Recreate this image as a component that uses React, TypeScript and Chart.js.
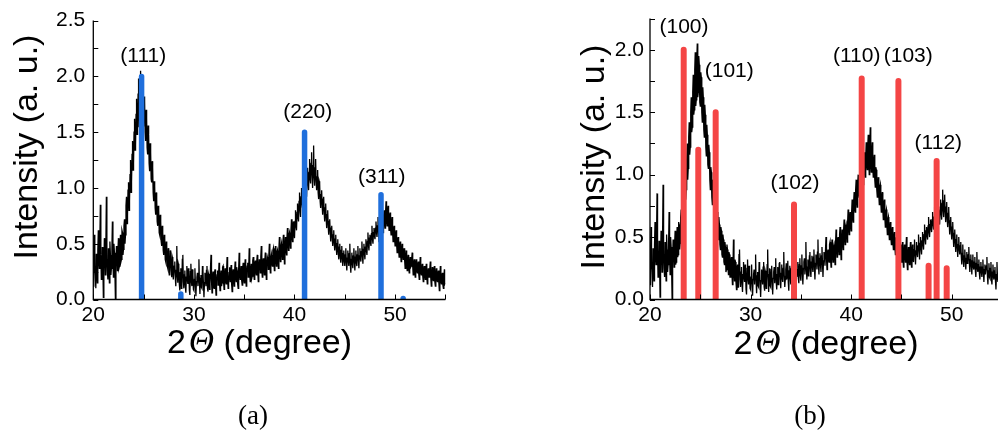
import { useEffect, useRef } from "react";
import { Chart, registerables } from "chart.js";

Chart.register(...registerables);

// XRD scan, 2θ = 20.00° … 55.00° in 0.05° steps (one row per degree)
const SCAN_START = 20;
const SCAN_STEP = 0.05;
const intensity: number[] = [
  0.12, 0.36, 0.58, 0.30, 0.22, 0.10, 0.41, 0.26, 0.15, 0.44, 0.62, 0.35, 0.28, 0.50, 0.85, 0.40, 0.18, 0.24, 0.47, 0.32, // 20
  0.02, 0.30, 0.55, 0.38, 0.22, 0.48, 0.92, 0.36, 0.25, 0.18, 0.46, 0.30, 0.15, 0.52, 0.40, 0.22, 0.28, 0.45, 0.70, 0.34, // 21
  0.20, 0.50, 0.42, 0.24, 0.00, 0.32, 0.48, 0.38, 0.26, 0.44, 0.55, 0.28, 0.30, 0.47, 0.58, 0.34, 0.36, 0.62, 0.60, 0.40, // 22
  0.45, 0.66, 0.72, 0.50, 0.58, 0.84, 0.92, 0.68, 0.75, 0.98, 1.05, 0.80, 0.88, 1.12, 1.25, 0.96, 1.05, 1.30, 1.42, 1.16, // 23
  1.22, 1.50, 1.62, 1.34, 1.38, 1.66, 1.80, 1.48, 1.52, 1.84, 1.98, 1.55, 1.60, 1.90, 2.05, 1.62, 1.66, 1.95, 1.88, 1.58, // 24
  1.55, 1.82, 1.78, 1.50, 1.42, 1.70, 1.62, 1.36, 1.30, 1.56, 1.48, 1.22, 1.15, 1.40, 1.32, 1.08, 1.05, 1.24, 1.18, 0.96, // 25
  0.88, 1.06, 1.02, 0.82, 0.76, 0.96, 0.90, 0.70, 0.66, 0.84, 0.80, 0.60, 0.58, 0.76, 0.70, 0.52, 0.48, 0.66, 0.60, 0.44, // 26
  0.40, 0.58, 0.55, 0.36, 0.34, 0.52, 0.48, 0.30, 0.28, 0.46, 0.42, 0.22, 0.24, 0.44, 0.40, 0.26, 0.20, 0.38, 0.36, 0.18, // 27
  0.18, 0.30, 0.34, 0.20, 0.12, 0.26, 0.48, 0.22, 0.15, 0.32, 0.30, 0.14, 0.08, 0.24, 0.28, 0.10, 0.14, 0.36, 0.40, 0.16, // 28
  0.10, 0.22, 0.26, 0.12, 0.06, 0.20, 0.30, 0.18, 0.14, 0.28, 0.24, 0.08, 0.04, 0.25, 0.32, 0.16, 0.12, 0.27, 0.22, 0.09, // 29
  0.08, 0.18, 0.28, 0.14, 0.03, 0.16, 0.20, 0.24, 0.12, 0.22, 0.36, 0.15, 0.05, 0.19, 0.22, 0.11, 0.10, 0.30, 0.26, 0.13, // 30
  0.02, 0.15, 0.24, 0.18, 0.12, 0.26, 0.30, 0.10, 0.07, 0.23, 0.21, 0.09, 0.14, 0.28, 0.40, 0.17, 0.06, 0.20, 0.25, 0.11, // 31
  0.10, 0.24, 0.27, 0.13, 0.04, 0.17, 0.22, 0.26, 0.13, 0.21, 0.33, 0.14, 0.08, 0.20, 0.26, 0.12, 0.15, 0.29, 0.30, 0.16, // 32
  0.09, 0.21, 0.28, 0.17, 0.14, 0.25, 0.38, 0.19, 0.10, 0.16, 0.24, 0.29, 0.16, 0.22, 0.31, 0.14, 0.07, 0.23, 0.27, 0.18, // 33
  0.12, 0.25, 0.34, 0.20, 0.16, 0.29, 0.26, 0.14, 0.10, 0.27, 0.42, 0.22, 0.18, 0.24, 0.30, 0.17, 0.13, 0.28, 0.33, 0.19, // 34
  0.15, 0.27, 0.36, 0.21, 0.12, 0.25, 0.30, 0.33, 0.20, 0.28, 0.46, 0.24, 0.16, 0.26, 0.32, 0.19, 0.21, 0.35, 0.38, 0.23, // 35
  0.18, 0.30, 0.35, 0.26, 0.22, 0.34, 0.40, 0.25, 0.16, 0.29, 0.36, 0.31, 0.24, 0.38, 0.48, 0.27, 0.20, 0.33, 0.37, 0.28, // 36
  0.22, 0.35, 0.42, 0.29, 0.18, 0.31, 0.38, 0.36, 0.27, 0.39, 0.50, 0.33, 0.24, 0.37, 0.40, 0.32, 0.30, 0.44, 0.46, 0.34, // 37
  0.26, 0.40, 0.48, 0.36, 0.30, 0.42, 0.44, 0.38, 0.28, 0.45, 0.56, 0.41, 0.34, 0.47, 0.50, 0.43, 0.36, 0.52, 0.58, 0.46, // 38
  0.32, 0.47, 0.56, 0.45, 0.40, 0.55, 0.64, 0.50, 0.44, 0.58, 0.60, 0.53, 0.46, 0.62, 0.72, 0.57, 0.52, 0.66, 0.70, 0.60, // 39
  0.55, 0.70, 0.80, 0.66, 0.62, 0.78, 0.86, 0.74, 0.70, 0.88, 0.96, 0.80, 0.74, 0.92, 1.00, 0.86, 0.82, 0.98, 1.08, 0.92, // 40
  0.86, 1.02, 1.10, 0.96, 0.92, 1.08, 1.18, 1.04, 0.98, 1.14, 1.26, 1.08, 1.04, 1.22, 1.32, 1.12, 1.00, 1.20, 1.38, 1.10, // 41
  1.02, 1.18, 1.26, 1.06, 0.98, 1.10, 1.16, 0.96, 0.90, 1.06, 1.04, 0.88, 0.82, 0.94, 0.98, 0.84, 0.76, 0.90, 0.92, 0.78, // 42
  0.70, 0.82, 0.86, 0.72, 0.64, 0.76, 0.80, 0.66, 0.58, 0.70, 0.72, 0.60, 0.52, 0.64, 0.66, 0.55, 0.48, 0.58, 0.62, 0.50, // 43
  0.44, 0.54, 0.58, 0.46, 0.40, 0.50, 0.54, 0.42, 0.36, 0.47, 0.50, 0.38, 0.33, 0.44, 0.48, 0.36, 0.30, 0.41, 0.44, 0.34, // 44
  0.30, 0.40, 0.46, 0.33, 0.26, 0.37, 0.44, 0.35, 0.30, 0.41, 0.50, 0.31, 0.24, 0.36, 0.42, 0.32, 0.28, 0.39, 0.46, 0.34, // 45
  0.26, 0.38, 0.44, 0.33, 0.30, 0.40, 0.48, 0.36, 0.28, 0.39, 0.46, 0.37, 0.34, 0.43, 0.52, 0.40, 0.32, 0.45, 0.50, 0.41, // 46
  0.36, 0.47, 0.54, 0.44, 0.40, 0.52, 0.60, 0.49, 0.44, 0.55, 0.58, 0.51, 0.48, 0.59, 0.66, 0.54, 0.50, 0.60, 0.64, 0.57, // 47
  0.54, 0.64, 0.70, 0.60, 0.56, 0.66, 0.74, 0.61, 0.52, 0.63, 0.68, 0.60, 0.56, 0.67, 0.72, 0.65, 0.60, 0.74, 0.80, 0.69, // 48
  0.64, 0.77, 0.88, 0.72, 0.66, 0.79, 0.84, 0.70, 0.62, 0.74, 0.78, 0.64, 0.58, 0.69, 0.74, 0.61, 0.52, 0.63, 0.66, 0.55, // 49
  0.48, 0.58, 0.62, 0.50, 0.42, 0.53, 0.56, 0.45, 0.38, 0.48, 0.52, 0.41, 0.34, 0.44, 0.50, 0.40, 0.36, 0.43, 0.46, 0.35, // 50
  0.28, 0.37, 0.44, 0.32, 0.26, 0.35, 0.40, 0.31, 0.24, 0.33, 0.38, 0.29, 0.30, 0.36, 0.42, 0.30, 0.22, 0.32, 0.36, 0.27, // 51
  0.20, 0.31, 0.36, 0.26, 0.24, 0.30, 0.34, 0.23, 0.18, 0.29, 0.38, 0.25, 0.22, 0.28, 0.32, 0.21, 0.16, 0.26, 0.30, 0.22, // 52
  0.18, 0.26, 0.32, 0.21, 0.14, 0.24, 0.28, 0.20, 0.20, 0.27, 0.34, 0.19, 0.12, 0.23, 0.29, 0.18, 0.17, 0.25, 0.30, 0.16, // 53
  0.12, 0.22, 0.28, 0.18, 0.16, 0.23, 0.26, 0.15, 0.08, 0.20, 0.30, 0.17, 0.14, 0.21, 0.24, 0.13, 0.10, 0.19, 0.27, 0.14, // 54
  0.15, // 55
];

// Cubic (zinc blende) reference lines
const cubicAngles = [24.8, 28.7, 41.0, 48.6, 50.8];
const cubicHeights = [2.0, 0.05, 1.5, 0.94, 0.01];
const cubicPlanes = ["(111)", "(220)", "(311)"];
const cubicPlaneAngles = [24.97, 41.32, 48.67];
const cubicPlaneHeights = [2.18, 1.675, 1.1];

// Hexagonal (wurtzite) reference lines
const hexAngles = [23.35, 24.8, 26.53, 34.32, 41.05, 44.7, 47.7, 48.5, 49.5];
const hexHeights = [2.0, 1.2, 1.5, 0.76, 1.77, 1.75, 0.27, 1.11, 0.25];
const hexPlanes = ["(100)", "(101)", "(102)", "(110)", "(103)", "(112)"];
const hexPlaneAngles = [23.38, 27.88, 34.42, 40.55, 45.68, 48.67];
const hexPlaneHeights = [2.185, 1.827, 0.93, 1.947, 1.947, 1.252];

const xTickLabels = [20, 30, 40, 50];

const SANS = '"Liberation Sans", Arial, sans-serif';
const SERIF = '"Liberation Serif", "Times New Roman", serif';

type PanelConfig = {
  canvasLeft: number;
  canvasWidth: number;
  yAxisWidth: number;
  padRight: number;
  padTop: number;
  yMax: number;
  yLabelPad: number;
  stickColor: string;
  stickWidth: number;
  angles: number[];
  heights: number[];
  planes: string[];
  planeAngles: number[];
  planeHeights: number[];
  yTitleX: number;
  yTitleY: number;
  xTitleX: number;
  xTitleBaseline: number;
};

const CANVAS_HEIGHT = 434;
const PLOT_BOTTOM = 299.5;

function stickPoints(angles: number[], heights: number[]) {
  const pts: { x: number; y: number | null }[] = [];
  angles.forEach((a, i) => {
    pts.push({ x: a, y: 0 }, { x: a, y: heights[i] }, { x: a, y: null });
  });
  return pts;
}

function framePlugin(cfg: PanelConfig) {
  return {
    id: "xrdFrame",
    afterDraw(chart: any) {
      const { ctx, chartArea: a, scales } = chart;
      const xs = scales.x;
      const ys = scales.y;
      ctx.save();

      // axis lines
      ctx.strokeStyle = "#000";
      ctx.lineWidth = 1.3;
      ctx.beginPath();
      ctx.moveTo(a.left, a.top);
      ctx.lineTo(a.left, a.bottom);
      ctx.lineTo(a.right, a.bottom);
      ctx.stroke();

      // inward ticks
      ctx.lineWidth = 1;
      ctx.beginPath();
      xs.ticks.forEach((t: any) => {
        const px = Math.round(xs.getPixelForValue(t.value)) + 0.5;
        ctx.moveTo(px, a.bottom);
        ctx.lineTo(px, a.bottom - 5);
      });
      ys.ticks.forEach((t: any) => {
        const py = Math.round(ys.getPixelForValue(t.value)) + 0.5;
        ctx.moveTo(a.left, py);
        ctx.lineTo(a.left + 5, py);
      });
      ctx.stroke();

      // Miller indices
      ctx.fillStyle = "#000";
      ctx.font = `21px ${SANS}`;
      ctx.textAlign = "center";
      ctx.textBaseline = "middle";
      cfg.planes.forEach((p, i) => {
        ctx.fillText(
          p,
          xs.getPixelForValue(cfg.planeAngles[i]),
          ys.getPixelForValue(cfg.planeHeights[i])
        );
      });

      // y title
      ctx.save();
      ctx.translate(cfg.yTitleX, cfg.yTitleY);
      ctx.rotate(-Math.PI / 2);
      ctx.font = `34px ${SANS}`;
      ctx.textAlign = "center";
      ctx.textBaseline = "middle";
      ctx.fillText("Intensity (a. u.)", 0, 0);
      ctx.restore();

      // x title: 2Θ (degree) with an italic Θ
      const sansFont = `34px ${SANS}`;
      const thetaFont = `italic 35px ${SERIF}`;
      ctx.textAlign = "left";
      ctx.textBaseline = "alphabetic";
      ctx.font = sansFont;
      const w2 = ctx.measureText("2").width;
      const wRest = ctx.measureText(" (degree)").width;
      ctx.font = thetaFont;
      const wT = ctx.measureText("Θ").width;
      const gap = 3;
      let x = cfg.xTitleX - (w2 + gap + wT + wRest) / 2;
      ctx.font = sansFont;
      ctx.fillText("2", x, cfg.xTitleBaseline);
      x += w2 + gap;
      ctx.font = thetaFont;
      ctx.fillText("Θ", x, cfg.xTitleBaseline);
      x += wT;
      ctx.font = sansFont;
      ctx.fillText(" (degree)", x, cfg.xTitleBaseline);

      ctx.restore();
    },
  };
}

function XrdPanel({ cfg }: { cfg: PanelConfig }) {
  const ref = useRef<HTMLCanvasElement>(null);

  useEffect(() => {
    const canvas = ref.current;
    if (!canvas) return;
    const scan = intensity.map((v, i) => ({
      x: SCAN_START + i * SCAN_STEP,
      y: v,
    }));
    const chart = new Chart(canvas, {
      type: "line",
      data: {
        datasets: [
          {
            label: "reference",
            data: stickPoints(cfg.angles, cfg.heights) as any,
            borderColor: cfg.stickColor,
            borderWidth: cfg.stickWidth,
            borderCapStyle: "round",
            pointRadius: 0,
            spanGaps: false,
            tension: 0,
          },
          {
            label: "scan",
            data: scan,
            borderColor: "#000",
            borderWidth: 1.3,
            pointRadius: 0,
            tension: 0,
          },
        ],
      },
      options: {
        responsive: false,
        animation: false,
        events: [],
        layout: {
          padding: { left: 0, top: cfg.padTop, right: cfg.padRight, bottom: 0 },
        },
        plugins: {
          legend: { display: false },
          tooltip: { enabled: false },
          title: { display: false },
        },
        scales: {
          x: {
            type: "linear",
            min: 20,
            max: 55,
            grid: { display: false, drawTicks: false },
            border: { display: false },
            ticks: {
              stepSize: 5,
              autoSkip: false,
              maxRotation: 0,
              padding: 3,
              color: "#000",
              font: { family: SANS, size: 21 },
              callback: (v: any) =>
                xTickLabels.includes(Number(v)) ? String(v) : "",
            },
            afterFit: (s: any) => {
              s.height = CANVAS_HEIGHT - PLOT_BOTTOM;
            },
          },
          y: {
            type: "linear",
            min: 0,
            max: cfg.yMax,
            grid: { display: false, drawTicks: false },
            border: { display: false },
            ticks: {
              stepSize: 0.25,
              autoSkip: false,
              padding: cfg.yLabelPad,
              color: "#000",
              font: { family: SANS, size: 21 },
              callback: (v: any) => {
                const n = Number(v);
                return Math.abs(n * 2 - Math.round(n * 2)) < 1e-6
                  ? n.toFixed(1)
                  : "";
              },
            },
            afterFit: (s: any) => {
              s.width = cfg.yAxisWidth;
            },
          },
        },
      },
      plugins: [framePlugin(cfg)],
    });
    return () => chart.destroy();
  }, [cfg]);

  return (
    <canvas
      ref={ref}
      width={cfg.canvasWidth}
      height={CANVAS_HEIGHT}
      style={{ position: "absolute", left: cfg.canvasLeft, top: 0 }}
    />
  );
}

const panelA: PanelConfig = {
  canvasLeft: 0,
  canvasWidth: 470,
  yAxisWidth: 93.3,
  padRight: 470 - 445.4,
  padTop: 16.75,
  yMax: 2.5,
  yLabelPad: 8,
  stickColor: "#1f6fdc",
  stickWidth: 5.5,
  angles: cubicAngles,
  heights: cubicHeights,
  planes: cubicPlanes,
  planeAngles: cubicPlaneAngles,
  planeHeights: cubicPlaneHeights,
  yTitleX: 28,
  yTitleY: 147,
  xTitleX: 259.5,
  xTitleBaseline: 353,
};

const panelB: PanelConfig = {
  canvasLeft: 540,
  canvasWidth: 470,
  yAxisWidth: 110,
  padRight: 8,
  padTop: 16.9,
  yMax: 2.25,
  yLabelPad: 6,
  stickColor: "#f44545",
  stickWidth: 6,
  angles: hexAngles,
  heights: hexHeights,
  planes: hexPlanes,
  planeAngles: hexPlaneAngles,
  planeHeights: hexPlaneHeights,
  yTitleX: 55,
  yTitleY: 157,
  xTitleX: 286,
  xTitleBaseline: 354,
};

const captionStyle = (cx: number): React.CSSProperties => ({
  position: "absolute",
  left: cx - 30,
  width: 60,
  top: 400,
  textAlign: "center",
  fontFamily: SERIF,
  fontSize: 27,
  lineHeight: "30px",
  color: "#000",
});

export default function App() {
  return (
    <div
      style={{
        position: "fixed",
        left: 0,
        top: 0,
        width: 998,
        height: 434,
        overflow: "hidden",
        background: "#fff",
      }}
    >
      <XrdPanel cfg={panelA} />
      <XrdPanel cfg={panelB} />
      <div style={captionStyle(253)}>(a)</div>
      <div style={captionStyle(810)}>(b)</div>
    </div>
  );
}
